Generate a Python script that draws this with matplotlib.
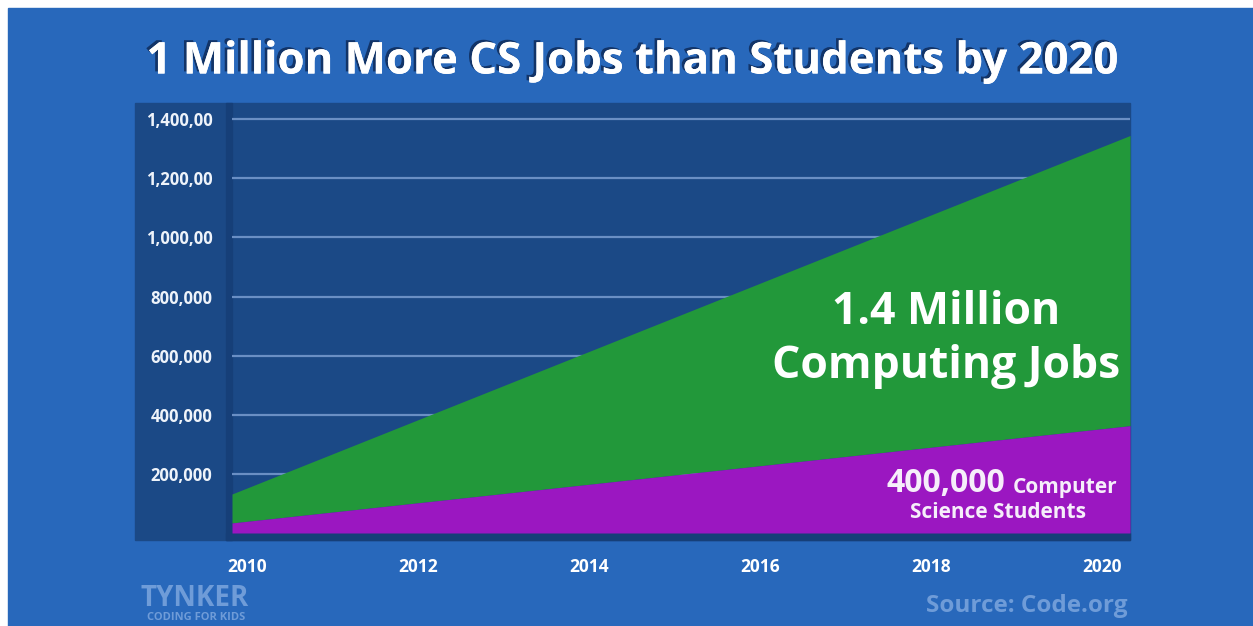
import matplotlib.pyplot as plt
import matplotlib.patheffects as pe
from matplotlib.patches import Rectangle

plt.rcParams['font.family'] = ['Open Sans', 'DejaVu Sans']
plt.rcParams['font.weight'] = 'bold'

# data
years = [2010, 2020]
students = [34000, 363000]
jobs = [132000, 1345000]
y_ticks = [200000, 400000, 600000, 800000, 1000000, 1200000, 1400000]
y_labels = ["200,000", "400,000", "600,000", "800,000", "1,000,00", "1,200,00", "1,400,00"]
x_ticks = [2010, 2012, 2014, 2016, 2018, 2020]

W, H = 1253, 626
BG = "#2868bb"
NAVY = "#1b4986"
DARK = "#163f78"
GREEN = "#22983a"
PURPLE = "#9b17c1"


def fx(px):
    return px / W


def fy(py):
    return 1 - py / H


fig = plt.figure(figsize=(W / 100, H / 100), dpi=100)
fig.patch.set_facecolor("white")

# blue card and chart panel (below the axes)
fig.patches.append(Rectangle((fx(8), 0), 1 - fx(8), fy(8), transform=fig.transFigure,
                             color=BG, zorder=-3))
fig.patches.append(Rectangle((fx(135), fy(540)), fx(1130 - 135), (540 - 103) / H,
                             transform=fig.transFigure, color=NAVY, zorder=-2))
fig.patches.append(Rectangle((fx(226), fy(540)), fx(6), (540 - 103) / H,
                             transform=fig.transFigure, color=DARK, zorder=-1))
fig.patches.append(Rectangle((fx(226), fy(540)), fx(1130 - 226), 7 / H,
                             transform=fig.transFigure, color=DARK, zorder=-1))

ax = fig.add_axes([fx(232), fy(533), fx(1130 - 232), (533 - 103) / H])
ax.set_facecolor("none")
ax.fill_between(years, students, jobs, color=GREEN, lw=0, zorder=3)
ax.fill_between(years, 0, students, color=PURPLE, lw=0, zorder=3)
ax.set_xlim(2010, 2020)
ax.set_ylim(0, 1455000)
ax.set_yticks(y_ticks)
ax.set_yticklabels(y_labels)
ax.set_xticks([])
ax.tick_params(axis='y', length=0, pad=14, labelsize=12, labelcolor="#eef3fa")
ax.grid(axis='y', color="#6a8fc4", lw=1.6, zorder=2)
ax.set_axisbelow(True)
for s in ax.spines.values():
    s.set_visible(False)

# year labels sit a little inside the fill edges
lab = fig.add_axes([fx(247), fy(533), fx(1102 - 247), 0.01])
lab.set_facecolor("none")
lab.set_xlim(2010, 2020)
lab.set_xticks(x_ticks)
lab.set_xticklabels([str(y) for y in x_ticks])
lab.set_yticks([])
lab.tick_params(axis='x', length=0, pad=18, labelsize=12.5, labelcolor="white")
for s in lab.spines.values():
    s.set_visible(False)

fig.text(fx(632), fy(62), "1 Million More CS Jobs than Students by 2020",
         ha='center', va='center', fontsize=31.5, color="white",
         path_effects=[pe.withSimplePatchShadow(offset=(-2, 1.5), shadow_rgbFace="#123468", alpha=1),
                       pe.Normal()])

ax.text(0.795, 0.45, "1.4 Million\nComputing Jobs", transform=ax.transAxes,
        ha='center', va='center', fontsize=32, color="white", linespacing=1.25, zorder=5)

ax.text(fx(1005), fy(483), "400,000", transform=fig.transFigure, ha='right', va='center',
        fontsize=23, color="#f6eefa", zorder=5)
ax.text(fx(1013), fy(487), "Computer", transform=fig.transFigure, ha='left', va='center',
        fontsize=15, color="#f6eefa", zorder=5)
ax.text(fx(998), fy(512), "Science Students", transform=fig.transFigure, ha='center', va='center',
        fontsize=15, color="#f6eefa", zorder=5)

fig.text(fx(1027), fy(606), "Source: Code.org", ha='center', va='center',
         fontsize=17.5, color="#6f9cd8")
fig.text(fx(195), fy(598), "TYNKER", ha='center', va='center', fontsize=20,
         color="#6f9cd8")
fig.text(fx(196), fy(618), "CODING FOR KIDS", ha='center', va='center', fontsize=8,
         color="#6f9cd8")

fig.savefig("out.png", dpi=100, facecolor=fig.get_facecolor())
